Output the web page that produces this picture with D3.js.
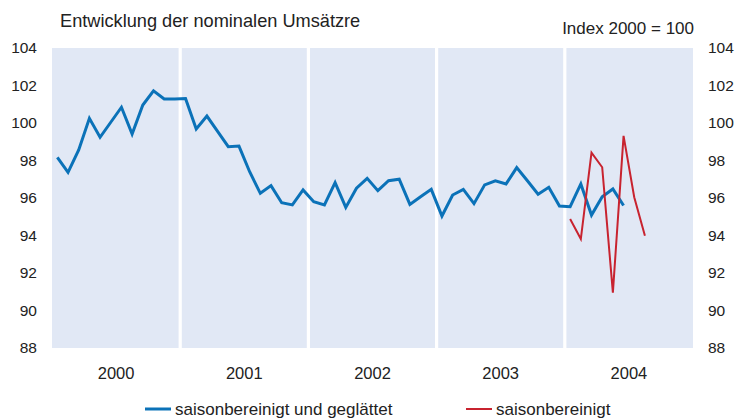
<!DOCTYPE html>
<html><head><meta charset="utf-8">
<script src="https://cdn.jsdelivr.net/npm/d3@7"></script>
<style>
body{margin:0;background:#fff;}
svg{display:block;font-family:"Liberation Sans",Arial,sans-serif;}
</style></head>
<body>
<svg id="c" width="737" height="418"></svg>
<script>
const years = ["2000","2001","2002","2003","2004"];
const yTicks = [88,90,92,94,96,98,100,102,104];
const smoothed = [
  98.17, 97.37, 98.56, 100.25, 99.24, 100.04, 100.84, 99.41, 100.96, 101.72, 101.28, 101.28,
  101.3, 99.68, 100.37, 99.55, 98.74, 98.77, 97.4, 96.25, 96.66, 95.75, 95.63, 96.43,
  95.8, 95.63, 96.82, 95.5, 96.52, 97.05, 96.39, 96.92, 97.0, 95.66, 96.07, 96.46,
  95.04, 96.16, 96.46, 95.7, 96.7, 96.92, 96.75, 97.62, 96.92, 96.2, 96.57, 95.57,
  95.54, 96.75, 95.09, 96.07, 96.48, 95.6
];
const seasonal = [94.88, 93.81, 98.42, 97.64, 90.95, 99.31, 96.04, 93.99];
const seasonalStart = 48; // index of 2004-01
const title = "Entwicklung der nominalen Umsätzre";
const unitNote = "Index 2000 = 100";
const legendLabels = ["saisonbereinigt und geglättet", "saisonbereinigt"];

const months = [];
years.forEach(y => { for (let m = 1; m <= 12; m++) months.push(y + "-" + String(m).padStart(2, "0")); });

const L = 52, R = 693, T = 48, B = 348;
const FONT = "Liberation Sans, Arial, sans-serif";
const svg = d3.select("#c");
const x = d3.scaleBand().domain(months).range([L, R]).padding(0);
const xYear = d3.scaleBand().domain(years).range([L, R]).padding(0);
const y = d3.scaleLinear().domain([88, 104]).range([B, T]);
const cx = i => x(months[i]) + x.bandwidth() / 2;

// background bands per year
svg.append("g").selectAll("rect").data(years).join("rect")
  .attr("x", (d, i) => xYear(d) + (i === 0 ? 0 : 1.6))
  .attr("width", (d, i) => xYear.bandwidth() - (i === 0 ? 1.6 : 3.2) + (i === years.length - 1 ? 1.6 : 0))
  .attr("y", T).attr("height", B - T)
  .attr("fill", "#e1e8f5");

// axes
const axL = svg.append("g").attr("transform", `translate(${L - 12},0)`)
  .call(d3.axisLeft(y).tickValues(yTicks).tickSize(0).tickPadding(3));
const axR = svg.append("g").attr("transform", `translate(${R + 12},0)`)
  .call(d3.axisRight(y).tickValues(yTicks).tickSize(0).tickPadding(3));
[axL, axR].forEach(a => {
  a.select(".domain").remove();
  a.selectAll("text").attr("font-size", 15.5).attr("fill", "#222").attr("font-family", FONT);
});
const axX = svg.append("g").attr("transform", `translate(0,${B + 8})`)
  .call(d3.axisBottom(xYear).tickSize(0).tickPadding(11));
axX.select(".domain").remove();
axX.selectAll("text").attr("font-size", 16.5).attr("fill", "#222").attr("font-family", FONT);

// lines
const line = d3.line().x(d => cx(d.i)).y(d => y(d.v));
svg.append("path")
  .datum(smoothed.map((v, i) => ({ i, v })))
  .attr("d", line).attr("fill", "none")
  .attr("stroke", "#0b72b8").attr("stroke-width", 3).attr("stroke-linejoin", "miter");
svg.append("path")
  .datum(seasonal.map((v, k) => ({ i: seasonalStart + k, v })))
  .attr("d", line).attr("fill", "none")
  .attr("stroke", "#c8232f").attr("stroke-width", 2);

// titles
svg.append("text").attr("x", 60).attr("y", 27).attr("font-size", 18.2).attr("fill", "#222").text(title);
svg.append("text").attr("x", 694).attr("y", 34).attr("text-anchor", "end").attr("font-size", 17).attr("fill", "#222").text(unitNote);

// legend
const lg = svg.append("g");
const legendItems = [
  { x: 145, w: 26, color: "#0b72b8", sw: 3, label: legendLabels[0] },
  { x: 466, w: 26, color: "#c8232f", sw: 2, label: legendLabels[1] }
];
legendItems.forEach(it => {
  lg.append("line").attr("x1", it.x).attr("x2", it.x + it.w).attr("y1", 409).attr("y2", 409)
    .attr("stroke", it.color).attr("stroke-width", it.sw);
  lg.append("text").attr("x", it.x + it.w + 4).attr("y", 415).attr("font-size", 17).attr("fill", "#222").text(it.label);
});
</script>
</body></html>
